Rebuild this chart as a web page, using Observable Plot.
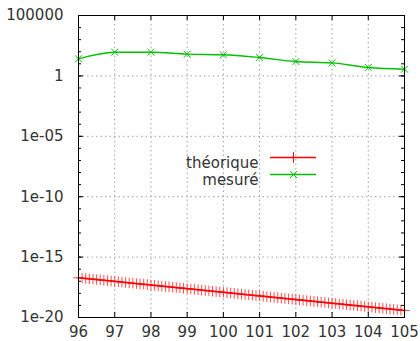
<!DOCTYPE html>
<html>
<head>
<meta charset="utf-8">
<script src="https://cdn.jsdelivr.net/npm/d3@7"></script>
<script src="https://cdn.jsdelivr.net/npm/@observablehq/plot@0.6"></script>
<style>
  html, body { margin: 0; padding: 0; background: #fff; }
  #chart { width: 420px; height: 341px; }
</style>
</head>
<body>
<div id="chart"></div>
<script>
// ---- data ----
const xTicks = [96, 97, 98, 99, 100, 101, 102, 103, 104, 105];
const yMajor = [1e-20, 1e-15, 1e-10, 1e-5, 1, 1e5];
const yLabels = ["1e-20", "1e-15", "1e-10", "1e-05", "1", "100000"];
const yMinor = [1e-20,1e-19,1e-18,1e-17,1e-16,1e-15,1e-14,1e-13,1e-12,1e-11,1e-10,1e-9,1e-8,1e-7,1e-6,1e-5,1e-4,1e-3,1e-2,1e-1,1,10,100,1e3,1e4,1e5];

const legendLabels = ["théorique", "mesuré"];

// mesuré (measured) – one point per integer
const mesureX = [96, 97, 98, 99, 100, 101, 102, 103, 104, 105];
const mesureY = [26, 91, 91, 63, 56, 33, 15.5, 12, 5, 3.6];

// théorique – sampled every 0.1 from 96 to 105
const theoY = [
  1.95e-17, 1.82e-17, 1.70e-17, 1.58e-17, 1.48e-17, 1.38e-17, 1.29e-17, 1.20e-17, 1.12e-17, 1.05e-17,
  9.75e-18, 9.10e-18, 8.49e-18, 7.92e-18, 7.39e-18, 6.89e-18, 6.43e-18, 6.00e-18, 5.60e-18, 5.22e-18,
  4.88e-18, 4.55e-18, 4.24e-18, 3.96e-18, 3.69e-18, 3.45e-18, 3.22e-18, 3.00e-18, 2.80e-18, 2.61e-18,
  2.44e-18, 2.27e-18, 2.12e-18, 1.98e-18, 1.85e-18, 1.72e-18, 1.61e-18, 1.50e-18, 1.40e-18, 1.31e-18,
  1.22e-18, 1.14e-18, 1.06e-18, 9.90e-19, 9.24e-19, 8.62e-19, 8.04e-19, 7.50e-19, 7.00e-19, 6.53e-19,
  6.09e-19, 5.69e-19, 5.30e-19, 4.95e-19, 4.62e-19, 4.31e-19, 4.02e-19, 3.75e-19, 3.50e-19, 3.26e-19,
  3.05e-19, 2.84e-19, 2.65e-19, 2.47e-19, 2.31e-19, 2.15e-19, 2.01e-19, 1.87e-19, 1.75e-19, 1.63e-19,
  1.52e-19, 1.42e-19, 1.33e-19, 1.24e-19, 1.15e-19, 1.08e-19, 1.00e-19, 9.37e-20, 8.75e-20, 8.17e-20,
  7.62e-20, 7.11e-20, 6.63e-20, 6.19e-20, 5.77e-20, 5.39e-20, 5.03e-20, 4.69e-20, 4.37e-20, 4.08e-20,
  3.81e-20
];
const theoX = theoY.map((_, i) => 96 + i / 10);

// ---- build ----
const W = 420, H = 341;
const mL = 78, mR = 16, mT = 15, mB = 24;
const fw = W - mL - mR, fh = H - mT - mB;

const theo = theoX.map((x, i) => ({x, y: theoY[i]}));
const mesure = mesureX.map((x, i) => ({x, y: mesureY[i]}));
const red = "#ff0000", green = "#00c000";
const gridStyle = {stroke: "#a0a0a0", strokeWidth: 1, strokeDasharray: "1.5,3"};
const inner = xTicks.slice(1, -1);

const chart = Plot.plot({
  width: W, height: H,
  marginLeft: mL, marginRight: mR, marginTop: mT, marginBottom: mB,
  style: {fontFamily: "DejaVu Sans", fontSize: "15px", color: "#333", background: "#fff"},
  x: {domain: [96, 105]},
  y: {type: "log", domain: [1e-20, 1e5]},
  marks: [
    // grid
    Plot.ruleX(inner, {x: d => d, ...gridStyle}),
    Plot.ruleY(yMajor.slice(1, -1), {y: d => d, ...gridStyle}),
    // inward ticks
    Plot.tickY(yMinor, {y: d => d, stroke: "#000", insetRight: fw - 3}),
    Plot.tickY(yMinor, {y: d => d, stroke: "#000", insetLeft: fw - 3}),
    Plot.tickY(yMajor, {y: d => d, stroke: "#000", insetRight: fw - 5}),
    Plot.tickY(yMajor, {y: d => d, stroke: "#000", insetLeft: fw - 5}),
    Plot.tickX(xTicks, {x: d => d, stroke: "#000", insetTop: fh - 5}),
    Plot.tickX(xTicks, {x: d => d, stroke: "#000", insetBottom: fh - 5}),
    // axes labels
    Plot.axisY(yMajor, {tickSize: 0, tickPadding: 15, tickFormat: (d, i) => yLabels[yMajor.indexOf(d)], fill: "#333", label: null, fontSize: 15}),
    Plot.axisX(xTicks, {tickSize: 0, tickPadding: 9, tickFormat: d => String(d), fill: "#333", label: null, fontSize: 15}),
    // data
    Plot.line(theo, {x: "x", y: "y", stroke: red, strokeWidth: 1.4, clip: false}),
    Plot.dot(theo, {x: "x", y: "y", symbol: "plus", r: 3.5, stroke: red, strokeWidth: 1, strokeOpacity: 0.7}),
    Plot.line(mesure, {x: "x", y: "y", stroke: green, strokeWidth: 1.4, curve: "monotone-x"}),
    Plot.dot(mesure, {x: "x", y: "y", symbol: "times", r: 3.2, stroke: green, strokeWidth: 1}),
    // legend
    Plot.text([legendLabels[0]], {text: d => d, frameAnchor: "top-left", dx: 180, dy: 142, textAnchor: "end", fill: "#333", fontSize: 15}),
    Plot.text([legendLabels[1]], {text: d => d, frameAnchor: "top-left", dx: 180, dy: 159, textAnchor: "end", fill: "#333", fontSize: 15}),
    Plot.tickY([1e5], {y: d => d, dy: 142, stroke: red, strokeWidth: 1.4, insetLeft: 192, insetRight: fw - 238}),
    Plot.tickY([1e5], {y: d => d, dy: 159, stroke: green, strokeWidth: 1.4, insetLeft: 192, insetRight: fw - 238}),
    Plot.dot([0], {frameAnchor: "top-left", dx: 215, dy: 142, symbol: "plus", r: 3.5, stroke: red, strokeWidth: 1}),
    Plot.dot([0], {frameAnchor: "top-left", dx: 215, dy: 159, symbol: "times", r: 3.2, stroke: green, strokeWidth: 1}),
    // frame
    Plot.frame({stroke: "#000", strokeWidth: 1})
  ]
});
document.getElementById("chart").appendChild(chart);
</script>
</body>
</html>
